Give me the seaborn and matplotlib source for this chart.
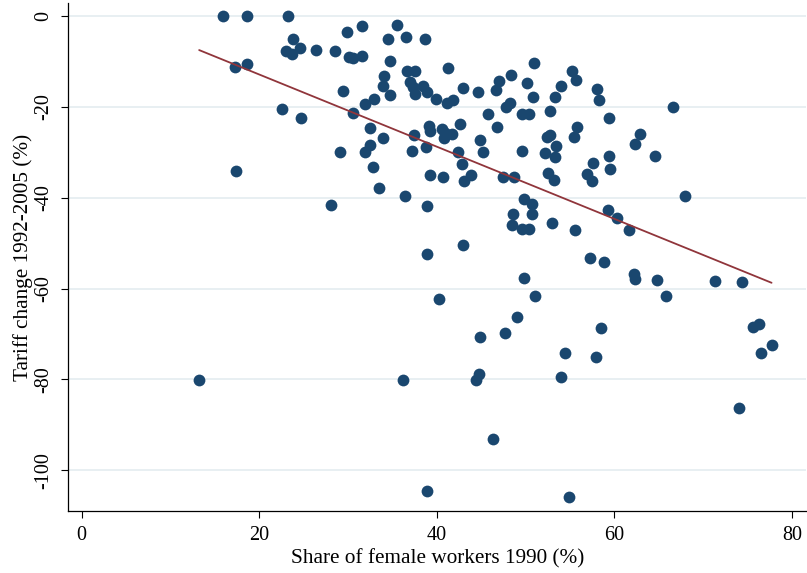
import matplotlib
matplotlib.use("Agg")
import matplotlib.pyplot as plt
import seaborn as sns
import pandas as pd

female_share = [
    15.88, 18.65, 17.26, 18.58, 17.34, 13.24, 23.23, 23.83, 23.01, 23.65,
    24.58, 26.35, 28.52, 29.84, 31.53, 30.14, 30.52, 31.57, 35.51, 34.49,
    36.49, 38.69, 34.72, 34.04, 33.96, 34.72, 29.46, 31.87, 32.92, 22.56,
    24.66, 30.52, 32.47, 33.90, 32.47, 31.94, 29.12, 32.80, 33.45, 36.44,
    36.60, 37.57, 36.97, 37.31, 37.53, 38.40, 38.85, 39.90, 41.22, 42.91,
    44.68, 41.17, 41.85, 45.81, 46.77, 37.39, 39.14, 39.25, 40.54, 40.97,
    41.67, 40.82, 42.60, 44.89, 45.23, 37.16, 38.77, 42.38, 42.83, 43.87,
    43.02, 39.22, 40.69, 47.50, 48.70, 50.97, 55.25, 55.69, 47.03, 46.66,
    48.31, 50.15, 54.00, 50.79, 53.28, 58.06, 58.25, 47.78, 48.29, 49.62,
    50.37, 52.74, 59.44, 55.78, 55.47, 52.40, 52.79, 53.45, 49.62, 52.20,
    53.36, 57.61, 59.44, 59.49, 52.55, 53.16, 56.96, 57.43, 49.77, 66.55,
    62.84, 62.31, 64.59, 67.91, 28.07, 38.89, 48.60, 48.42, 49.55, 50.37,
    50.74, 50.74, 52.93, 55.59, 59.30, 60.28, 61.60, 38.92, 42.94, 49.83,
    40.24, 48.99, 47.67, 44.89, 36.15, 44.74, 44.44, 57.27, 58.82, 62.23,
    62.31, 64.79, 71.28, 74.32, 51.08, 65.80, 58.45, 54.46, 57.92, 53.94,
    75.63, 76.27, 76.50, 77.70, 73.99, 46.28, 38.92, 54.88,
]

tariff_change = [
    0.0, 0.0, -11.16, -10.63, -34.12, -80.06, 0.0, -5.13, -7.64, -8.36,
    -6.98, -7.55, -7.64, -3.52, -2.20, -9.02, -9.31, -8.87, -2.05, -5.06,
    -4.69, -5.13, -9.84, -13.27, -15.41, -17.46, -16.58, -19.37, -18.34, -20.54,
    -22.39, -21.42, -24.59, -26.85, -28.33, -29.94, -30.00, -33.30, -37.75, -39.51,
    -12.04, -12.04, -14.46, -15.69, -17.06, -15.47, -16.77, -18.16, -11.34, -15.91,
    -16.69, -19.08, -18.42, -21.51, -24.32, -26.08, -24.17, -25.27, -24.81, -25.64,
    -25.93, -26.90, -23.84, -27.29, -29.87, -29.78, -28.77, -29.98, -32.64, -35.00,
    -36.39, -35.00, -35.51, -35.33, -35.37, -10.39, -12.15, -14.09, -14.20, -16.29,
    -13.05, -14.81, -15.45, -17.79, -17.90, -16.11, -18.49, -19.96, -19.04, -21.57,
    -21.64, -20.80, -22.39, -24.37, -26.52, -26.59, -26.19, -28.55, -29.65, -30.22,
    -30.93, -32.42, -30.88, -33.57, -34.49, -36.10, -34.67, -36.32, -40.17, -20.10,
    -25.91, -28.24, -30.88, -39.51, -41.60, -41.76, -43.58, -45.89, -46.95, -46.95,
    -41.43, -43.65, -45.50, -47.00, -42.75, -44.42, -47.11, -52.45, -50.47, -57.63,
    -62.23, -66.26, -69.71, -70.59, -80.06, -78.80, -80.06, -53.33, -54.22, -56.79,
    -57.96, -58.11, -58.40, -58.49, -61.63, -61.57, -68.61, -74.18, -75.00, -79.40,
    -68.39, -67.86, -74.18, -72.42, -86.29, -93.04, -104.49, -105.94,
]

x_ticks = [0, 20, 40, 60, 80]
y_ticks = [0, -20, -40, -60, -80, -100]
x_label = "Share of female workers 1990 (%)"
y_label = "Tariff change 1992-2005 (%)"

df = pd.DataFrame({"female": female_share, "tariff": tariff_change})

sns.set_style("ticks")
plt.rcParams["font.family"] = ["Liberation Serif", "DejaVu Serif"]
plt.rcParams["text.color"] = "black"
plt.rcParams["axes.labelcolor"] = "black"

fig = plt.figure(figsize=(8.07, 5.73), dpi=100)
ax = fig.add_axes([0.0846, 0.1082, 0.9144, 0.886])

ax.yaxis.grid(True, color="#e6eef1", linewidth=1.3, zorder=0)
ax.set_axisbelow(True)

sns.scatterplot(data=df, x="female", y="tariff", ax=ax, s=72,
                color="#1a476f", linewidth=0, zorder=3)
sns.regplot(data=df, x="female", y="tariff", ax=ax, scatter=False, ci=None,
            line_kws={"color": "#90353b", "linewidth": 1.3, "zorder": 4})

ax.set_xlim(-1.5, 81.6)
ax.set_ylim(-108.96, 2.8)
ax.set_xticks(x_ticks)
ax.set_yticks(y_ticks)
ax.set_yticklabels([str(t) for t in y_ticks], rotation=90, va="center")

ax.tick_params(axis="both", direction="out", length=5, width=0.8,
               labelsize=14.5, colors="black", labelcolor="black")
ax.tick_params(axis="x", pad=6)
ax.tick_params(axis="y", pad=6)

ax.set_xlabel(x_label, fontsize=15.3, labelpad=3, color="black")
ax.set_ylabel(y_label, fontsize=15.3, labelpad=1, color="black")

for side in ["top", "right"]:
    ax.spines[side].set_visible(False)
for side in ["left", "bottom"]:
    ax.spines[side].set_color("black")
    ax.spines[side].set_linewidth(0.9)

fig.savefig("out.png", dpi=100)
